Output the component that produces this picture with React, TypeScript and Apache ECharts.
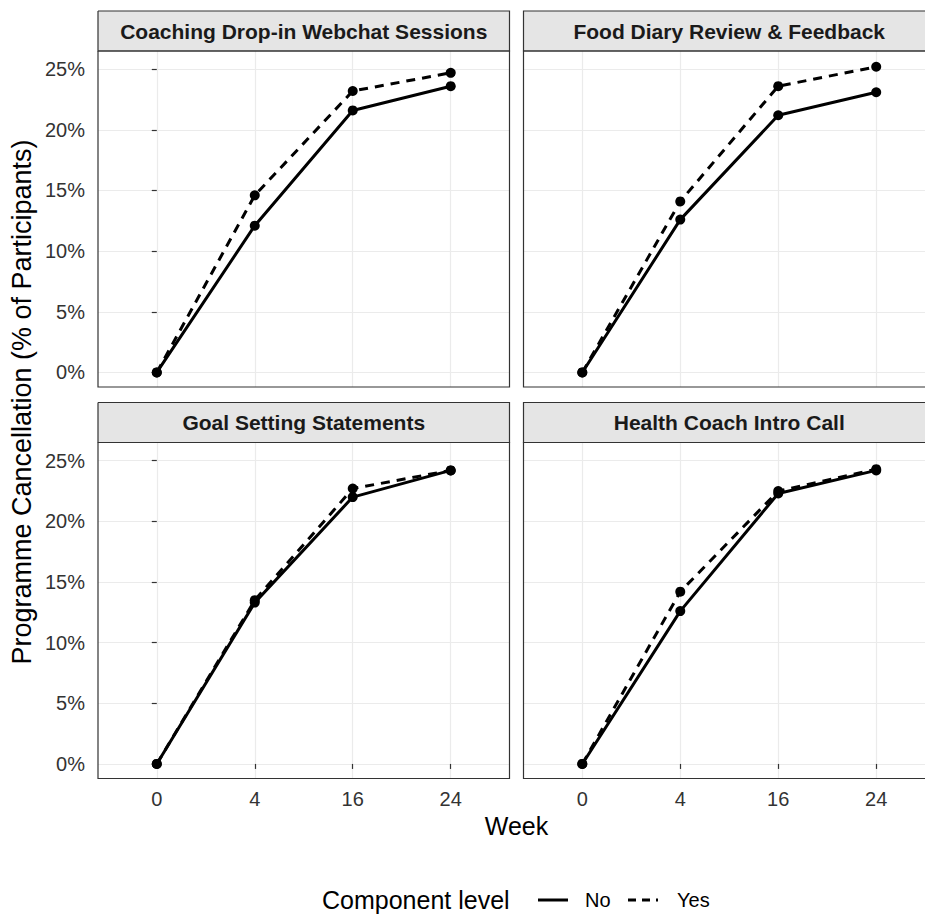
import React, { useEffect, useRef } from 'react';
import * as echarts from 'echarts';

// Weeks on the shared x axis
const weeks = ['0', '4', '16', '24'];
// Facet titles, in reading order
const panelTitles = [
  'Coaching Drop-in Webchat Sessions',
  'Food Diary Review & Feedback',
  'Goal Setting Statements',
  'Health Coach Intro Call',
];
const levels = ['No', 'Yes'];
const yTicks = [0, 5, 10, 15, 20, 25];

// Programme cancellation (% of participants) per component level
const coachingNo = [0, 12.1, 21.6, 23.6];
const coachingYes = [0, 14.6, 23.2, 24.7];
const foodNo = [0, 12.6, 21.2, 23.1];
const foodYes = [0, 14.1, 23.6, 25.2];
const goalNo = [0, 13.3, 22.0, 24.2];
const goalYes = [0, 13.5, 22.7, 24.2];
const healthNo = [0, 12.6, 22.3, 24.2];
const healthYes = [0, 14.2, 22.5, 24.3];

const panelSeries = [
  [coachingNo, coachingYes],
  [foodNo, foodYes],
  [goalNo, goalYes],
  [healthNo, healthYes],
];

const FONT = '"Liberation Sans", Arial, Helvetica, sans-serif';
const TEXT = '#333333';
const GRID_LINE = '#ebebeb';
const BORDER = '#333333';

// the right-hand column runs past the visible edge of the page
const CANVAS_W = 950;
const CANVAS_H = 915;

const colLeft = [98, 523.5];
const rowTop = [51, 442.5];
const panelW = 411.5;
const panelH = 336;
const stripH = 40;

// outline of a box; the right-hand column's right side lies off the page
function outline(x: number, y: number, w: number, h: number, closed: boolean) {
  const pts = closed
    ? [[x, y], [x + w, y], [x + w, y + h], [x, y + h], [x, y]]
    : [[x + w + 20, y], [x, y], [x, y + h], [x + w + 20, y + h]];
  return {
    type: 'polyline',
    shape: { points: pts },
    style: { fill: null, stroke: BORDER, lineWidth: 1.2 },
    silent: true,
    z: 12,
  };
}

export default function App() {
  const ref = useRef<HTMLDivElement>(null);

  useEffect(() => {
    if (!ref.current) return;
    document.documentElement.style.overflow = 'hidden';
    document.body.style.overflow = 'hidden';
    const chart = echarts.init(ref.current, undefined, { renderer: 'svg' });

    const grids: any[] = [];
    const xAxes: any[] = [];
    const yAxes: any[] = [];
    const series: any[] = [];
    const graphics: any[] = [];

    panelTitles.forEach((title, i) => {
      const col = i % 2;
      const row = Math.floor(i / 2);
      const left = colLeft[col];
      const top = rowTop[row];
      const showX = row === 1;
      const showY = col === 0;

      grids.push({
        left,
        top,
        width: panelW,
        height: panelH,
        show: false,
        containLabel: false,
        outerBoundsMode: 'none',
      });

      xAxes.push({
        type: 'value',
        gridIndex: i,
        min: -0.6,
        max: 3.6,
        axisLine: { show: false },
        axisTick: {
          show: showX,
          customValues: [0, 1, 2, 3],
          length: 5,
          lineStyle: { color: BORDER, width: 1.2 },
        },
        axisLabel: {
          show: showX,
          customValues: [0, 1, 2, 3],
          formatter: (v: number) => weeks[Math.round(v)] ?? '',
          fontFamily: FONT,
          fontSize: 20,
          color: TEXT,
          margin: 10,
        },
        splitLine: { show: true, lineStyle: { color: GRID_LINE, width: 1.2 } },
      });

      yAxes.push({
        type: 'value',
        gridIndex: i,
        min: -1.2,
        max: 26.5,
        axisLine: { show: false },
        axisTick: {
          show: showY,
          customValues: yTicks,
          length: 5,
          lineStyle: { color: BORDER, width: 1.2 },
        },
        axisLabel: {
          show: showY,
          customValues: yTicks,
          formatter: (v: number) => `${v}%`,
          fontFamily: FONT,
          fontSize: 20,
          color: TEXT,
          margin: 13,
        },
        splitLine: { show: true, lineStyle: { color: GRID_LINE, width: 1.2 } },
      });

      panelSeries[i].forEach((vals, k) => {
        series.push({
          type: 'line',
          name: levels[k],
          xAxisIndex: i,
          yAxisIndex: i,
          data: vals.map((v, j) => [j, v]),
          symbol: 'circle',
          symbolSize: 10,
          itemStyle: { color: '#000000' },
          lineStyle: {
            color: '#000000',
            width: 3,
            type: k === 0 ? 'solid' : [9, 7],
          },
          z: 3 + k,
        });
      });

      const closed = col === 0;
      // panel border
      graphics.push(outline(left, top, panelW, panelH, closed));
      // facet strip
      graphics.push({
        type: 'rect',
        shape: { x: left, y: top - stripH, width: panelW + (closed ? 0 : 20), height: stripH },
        style: { fill: '#e5e5e5', stroke: null },
        silent: true,
        z: 10,
      });
      graphics.push(outline(left, top - stripH, panelW, stripH, closed));
      graphics.push({
        type: 'text',
        x: left + panelW / 2,
        y: top - stripH / 2,
        style: {
          text: title,
          font: `bold 21px ${FONT}`,
          fill: '#1a1a1a',
          textAlign: 'center',
          textVerticalAlign: 'middle',
        },
        z: 13,
      });
    });

    // axis titles
    graphics.push({
      type: 'text',
      x: 516.5,
      y: 826,
      style: {
        text: 'Week',
        font: `25px ${FONT}`,
        fill: '#000000',
        textAlign: 'center',
        textVerticalAlign: 'middle',
      },
    });
    graphics.push({
      type: 'text',
      x: 22,
      y: 402,
      rotation: Math.PI / 2,
      style: {
        text: 'Programme Cancellation (% of Participants)',
        font: `27px ${FONT}`,
        fill: '#000000',
        textAlign: 'center',
        textVerticalAlign: 'middle',
      },
    });

    // legend
    const legendY = 900;
    graphics.push({
      type: 'text',
      x: 322,
      y: legendY,
      style: {
        text: 'Component level',
        font: `25px ${FONT}`,
        fill: '#000000',
        textAlign: 'left',
        textVerticalAlign: 'middle',
      },
    });
    const keyX = [538, 628];
    const labelX = [585, 677];
    levels.forEach((lvl, k) => {
      graphics.push({
        type: 'line',
        shape: { x1: keyX[k], y1: legendY, x2: keyX[k] + 30, y2: legendY },
        style: {
          stroke: '#000000',
          lineWidth: 3,
          lineDash: k === 0 ? null : [8, 6],
        },
      });
      graphics.push({
        type: 'text',
        x: labelX[k],
        y: legendY,
        style: {
          text: lvl,
          font: `20px ${FONT}`,
          fill: '#000000',
          textAlign: 'left',
          textVerticalAlign: 'middle',
        },
      });
    });

    chart.setOption({
      animation: false,
      backgroundColor: '#ffffff',
      grid: grids,
      xAxis: xAxes,
      yAxis: yAxes,
      series,
      graphic: { elements: graphics },
    });

    return () => chart.dispose();
  }, []);

  return (
    <div
      ref={ref}
      style={{ position: 'absolute', left: 0, top: 0, width: CANVAS_W, height: CANVAS_H }}
    />
  );
}
